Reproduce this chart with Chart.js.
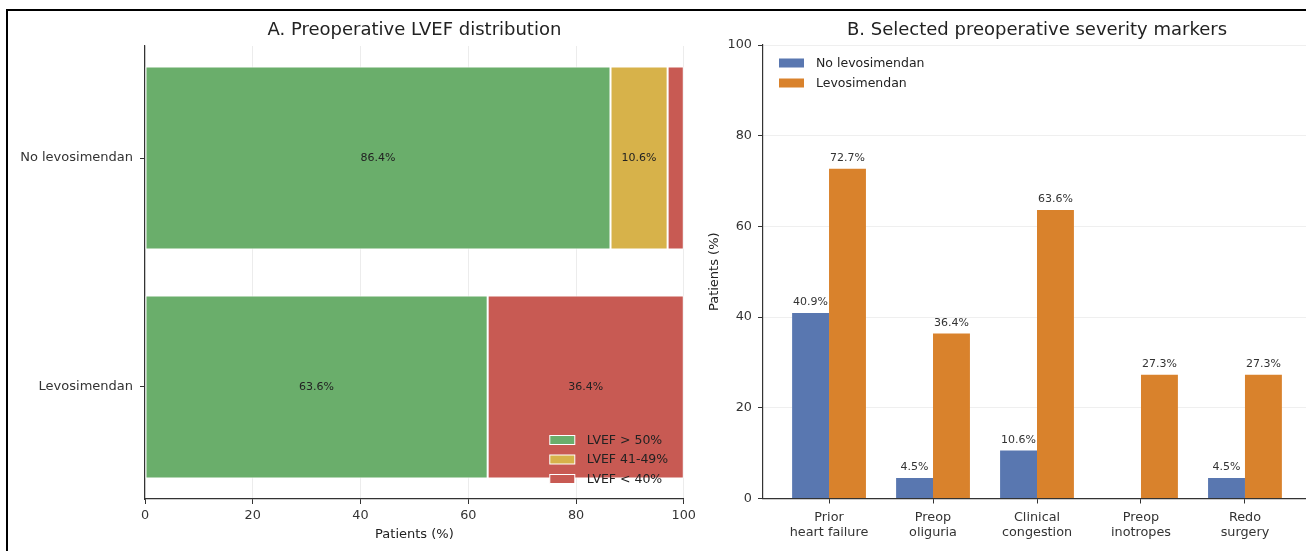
<!DOCTYPE html>
<html><head><meta charset="utf-8">
<script src="https://cdn.jsdelivr.net/npm/chart.js@4.4.1/dist/chart.umd.min.js"></script>
<style>
html,body{margin:0;padding:0;background:#fff;overflow:hidden;width:1306px;height:551px;position:relative;}
#frame{position:absolute;left:6px;top:9px;width:1400px;height:600px;border-top:2px solid #000;border-left:2px solid #000;}
#c1{position:absolute;left:0;top:0;}
#c2{position:absolute;left:700px;top:0;}
</style></head><body>
<div id="frame"></div>
<canvas id="c1" width="700" height="551"></canvas>
<canvas id="c2" width="620" height="551"></canvas>
<script>
// ---- data ----
const groups = ['No levosimendan', 'Levosimendan'];
const lvefLabels = ['LVEF > 50%', 'LVEF 41-49%', 'LVEF < 40%'];
const lvefAbove50 = [86.4, 63.6];
const lvef41to49 = [10.6, 0.0];
const lvefBelow40 = [3.0, 36.4];
const pctTicks = [0, 20, 40, 60, 80, 100];

const markers = [['Prior', 'heart failure'], ['Preop', 'oliguria'], ['Clinical', 'congestion'], ['Preop', 'inotropes'], ['Redo', 'surgery']];
const seriesNames = ['No levosimendan', 'Levosimendan'];
const noLevo = [40.9, 4.5, 10.6, 0.0, 4.5];
const levo = [72.7, 36.4, 63.6, 27.3, 27.3];

// ---- styles ----
const FONT = "'DejaVu Sans', 'Liberation Sans', sans-serif";
const lvefColors = ['#6aae6b', '#d7b24a', '#c85a53'];
const markerColors = ['#5977b0', '#d9822c'];
const AX = '#333333';
const TICK_SIZE = 12.8;

const titlePlugin = {
  id: 'panelTitle',
  afterDraw(chart, args, opts) {
    const {ctx, chartArea} = chart;
    ctx.save();
    ctx.font = '18px ' + FONT;
    ctx.fillStyle = '#222';
    ctx.textAlign = 'center';
    ctx.textBaseline = 'middle';
    ctx.fillText(opts.text, (chartArea.left + chartArea.right) / 2, 30);
    ctx.restore();
  }
};

const legendPlugin = {
  id: 'innerLegend',
  afterDraw(chart, args, opts) {
    const {ctx, chartArea} = chart;
    ctx.save();
    ctx.font = '12.5px ' + FONT;
    ctx.textBaseline = 'middle';
    ctx.textAlign = 'left';
    chart.data.datasets.forEach((ds, i) => {
      const x = opts.anchor === 'br' ? chartArea.right - 134 : chartArea.left + 16;
      const y = opts.anchor === 'br' ? chartArea.bottom - 59 + i * 19.5 : chartArea.top + 18 + i * 20;
      ctx.fillStyle = ds.backgroundColor;
      ctx.fillRect(x, y - 4.5, 25, 9);
      if (opts.anchor === 'br') {
        ctx.strokeStyle = '#fff';
        ctx.lineWidth = 1;
        ctx.strokeRect(x, y - 4.5, 25, 9);
      }
      ctx.fillStyle = '#222';
      ctx.fillText(ds.label, x + 37, y + 0.5);
    });
    ctx.restore();
  }
};

const stackLabels = {
  id: 'stackLabels',
  afterDatasetsDraw(chart) {
    const {ctx} = chart;
    ctx.save();
    ctx.font = '11px ' + FONT;
    ctx.fillStyle = '#222';
    ctx.textAlign = 'center';
    ctx.textBaseline = 'middle';
    chart.data.datasets.forEach((ds, di) => {
      const meta = chart.getDatasetMeta(di);
      meta.data.forEach((el, i) => {
        const v = ds.data[i].x;
        if (v < 5) return;
        const p = el.getProps(['x', 'y', 'base'], true);
        ctx.fillText(v.toFixed(1) + '%', (p.x + p.base) / 2, p.y);
      });
    });
    ctx.restore();
  }
};

const topLabels = {
  id: 'topLabels',
  afterDatasetsDraw(chart) {
    const {ctx} = chart;
    ctx.save();
    ctx.font = '11px ' + FONT;
    ctx.fillStyle = '#333';
    ctx.textAlign = 'center';
    ctx.textBaseline = 'bottom';
    chart.data.datasets.forEach((ds, di) => {
      const meta = chart.getDatasetMeta(di);
      meta.data.forEach((el, i) => {
        const v = ds.data[i].y;
        if (v <= 0) return;
        const p = el.getProps(['x', 'y'], true);
        ctx.fillText(v.toFixed(1) + '%', p.x, p.y - 5);
      });
    });
    ctx.restore();
  }
};

// ---- chart A ----
const lvefSeries = [lvefAbove50, lvef41to49, lvefBelow40];
new Chart(document.getElementById('c1'), {
  type: 'bar',
  data: {
    datasets: lvefSeries.map((vals, i) => ({
      label: lvefLabels[i],
      data: vals.map((v, j) => ({x: v, y: j})),
      backgroundColor: lvefColors[i],
      borderColor: '#ffffff',
      borderWidth: 1,
      borderSkipped: false,
      barPercentage: 0.8,
      categoryPercentage: 1.0
    }))
  },
  options: {
    indexAxis: 'y',
    responsive: false,
    animation: false,
    layout: {padding: {top: 46, right: 16, bottom: 0, left: 0}},
    plugins: {
      legend: {display: false}, title: {display: false}, tooltip: {enabled: false},
      panelTitle: {text: 'A. Preoperative LVEF distribution'},
      innerLegend: {anchor: 'br'}
    },
    scales: {
      x: {
        type: 'linear', stacked: true, min: 0, max: 100,
        afterBuildTicks: s => { s.ticks = pctTicks.map(v => ({value: v})); },
        ticks: {font: {family: FONT, size: TICK_SIZE}, color: AX, padding: 4},
        grid: {color: '#ececec', lineWidth: 1, tickColor: AX, tickLength: 5},
        border: {color: AX, width: 1.2},
        title: {display: true, text: 'Patients (%)', font: {family: FONT, size: 13}, color: '#222', padding: {top: 2, bottom: 9}},
        afterFit: s => { s.height = 52; }
      },
      y: {
        type: 'linear', stacked: true, reverse: true, min: -0.49, max: 1.49, offset: false,
        afterBuildTicks: s => { s.ticks = groups.map((g, i) => ({value: i})); },
        ticks: {callback: v => groups[v], font: {family: FONT, size: 13}, color: AX, padding: 7},
        grid: {offset: false, drawOnChartArea: false, tickColor: AX, tickLength: 5},
        border: {color: AX, width: 1.2},
        afterFit: s => { s.width = 145; }
      }
    }
  },
  plugins: [titlePlugin, legendPlugin, stackLabels]
});

// ---- chart B ----
const markerSeries = [noLevo, levo];
new Chart(document.getElementById('c2'), {
  type: 'bar',
  data: {
    datasets: markerSeries.map((vals, i) => ({
      label: seriesNames[i],
      data: vals.map((v, j) => ({x: j, y: v})),
      backgroundColor: markerColors[i],
      borderWidth: 0,
      barPercentage: 1.0,
      categoryPercentage: 0.71
    }))
  },
  options: {
    responsive: false,
    animation: false,
    layout: {padding: {top: 45, right: 9, bottom: 0, left: 0}},
    plugins: {
      legend: {display: false}, title: {display: false}, tooltip: {enabled: false},
      panelTitle: {text: 'B. Selected preoperative severity markers'},
      innerLegend: {anchor: 'tl'}
    },
    scales: {
      x: {
        type: 'linear', min: -0.635, max: 4.635, offset: false,
        afterBuildTicks: s => { s.ticks = markers.map((m, i) => ({value: i})); },
        ticks: {callback: v => markers[v], font: {family: FONT, size: TICK_SIZE}, color: AX, padding: 6, maxRotation: 0, autoSkip: false},
        grid: {offset: false, drawOnChartArea: false, tickColor: AX, tickLength: 5},
        border: {color: AX, width: 1.2},
        afterFit: s => { s.height = 52.5; }
      },
      y: {
        type: 'linear', min: 0, max: 100,
        afterBuildTicks: s => { s.ticks = pctTicks.map(v => ({value: v})); },
        ticks: {font: {family: FONT, size: TICK_SIZE}, color: AX, padding: 6},
        grid: {color: '#efefef', lineWidth: 1, tickColor: AX, tickLength: 5},
        border: {color: AX, width: 1.2},
        title: {display: true, text: 'Patients (%)', font: {family: FONT, size: 13}, color: '#222', padding: {top: 7, bottom: 2}},
        afterFit: s => { s.width = 63; }
      }
    }
  },
  plugins: [titlePlugin, legendPlugin, topLabels]
});
</script>
</body></html>
